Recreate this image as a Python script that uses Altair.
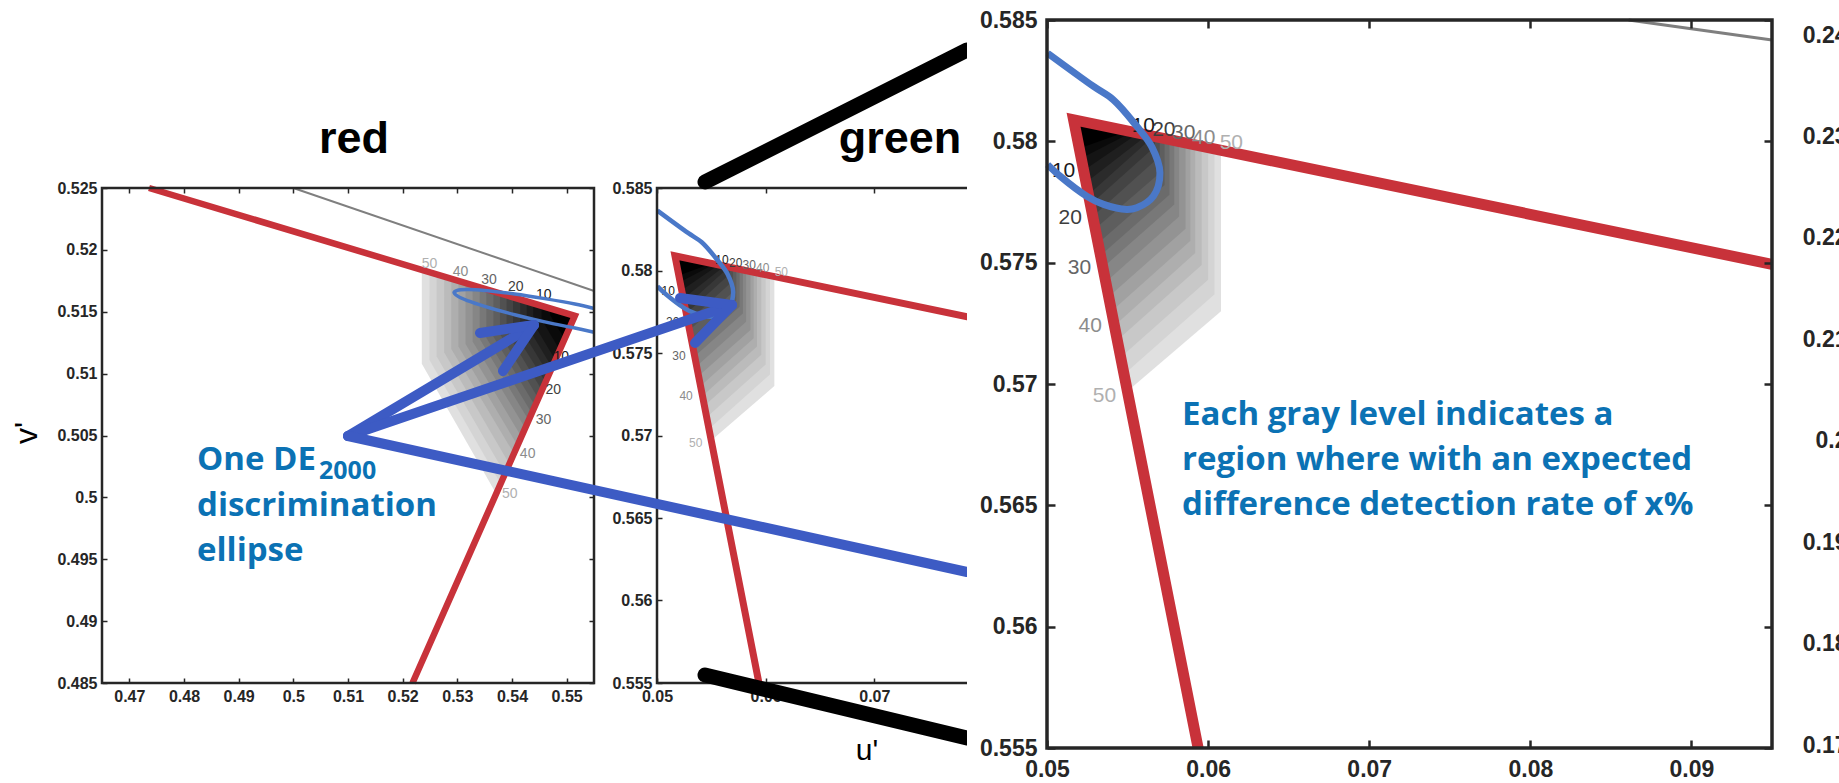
import altair as alt
import pandas as pd

W, H = 1839, 783
INK = "#262626"
RED = "#c8323a"
ELL = "#4a78c8"
ARROW = "#3d5bc4"
NOTE = "#0b72b4"

# ---------------------------------------------------------------- data
# red primary panel (u', v')
red_gamut_u = [0.4736, 0.5515, 0.5218]
red_gamut_v = [0.5250, 0.51467, 0.4850]
red_locus_u = [0.5000, 0.5549]
red_locus_v = [0.5250, 0.5167]
red_ellipse_u = [0.5550, 0.5515, 0.5460, 0.5405, 0.5350, 0.5320, 0.5300, 0.5294,
                 0.5300, 0.5320, 0.5350, 0.5405, 0.5460, 0.5515, 0.5550]
red_ellipse_v = [0.51526, 0.51562, 0.51606, 0.51644, 0.51672, 0.51679, 0.51672, 0.51655,
                 0.51628, 0.51587, 0.51543, 0.51476, 0.51418, 0.51368, 0.51335]

# detection-rate bands (%): for each contour, where it leaves the upper gamut edge (u),
# where its vertical part ends (v) and where it meets the lower gamut edge (v)
levels = [2.5, 5, 7.5, 10, 12.5, 15, 17.5, 20, 22.5, 25,
          27.5, 30, 32.5, 35, 37.5, 40, 42.5, 45, 47.5, 50]
level_gray = ["#000000", "#000000", "#0a0a0a", "#141414", "#1f1f1f", "#2b2b2b", "#373737",
              "#444444", "#515151", "#5e5e5e", "#6b6b6b", "#787878", "#868686", "#939393",
              "#a1a1a1", "#aeaeae", "#bbbbbb", "#c8c8c8", "#d4d4d4", "#e0e0e0"]
red_band_u = [0.5490, 0.5470, 0.5454, 0.5439, 0.5427, 0.5415, 0.5402, 0.5390, 0.5378, 0.5366,
              0.5353, 0.5341, 0.5328, 0.5315, 0.5302, 0.5289, 0.5276, 0.5262, 0.5249, 0.5235]
red_band_bend_v = [0.5148, 0.5147, 0.5144, 0.5141, 0.5139, 0.5137, 0.5135, 0.5134, 0.5132, 0.5130,
                   0.5129, 0.5128, 0.5126, 0.5124, 0.5122, 0.5120, 0.5117, 0.5114, 0.5111, 0.5108]
red_band_low_v = [0.5138, 0.5128, 0.5119, 0.5111, 0.5105, 0.5099, 0.5093, 0.50865, 0.5080, 0.5074,
                  0.5068, 0.50623, 0.5056, 0.5049, 0.5042, 0.50354, 0.5027, 0.5019, 0.5011, 0.5003]

label_levels = ["10", "20", "30", "40", "50"]
label_gray = ["#1a1a1a", "#3d3d3d", "#666666", "#8c8c8c", "#b0b0b0"]
red_top_label_u = [0.5458, 0.5407, 0.5358, 0.5306, 0.5249]
red_top_label_v = [0.51633, 0.51700, 0.51754, 0.51821, 0.51889]
red_side_label_u = [0.5490, 0.54756, 0.54575, 0.54286, 0.53959]
red_side_label_v = [0.51134, 0.50865, 0.50623, 0.50354, 0.50030]

# green primary (shown small and enlarged)
green_gamut_u = [0.0950, 0.05165, 0.05938]
green_gamut_v = [0.57493, 0.58089, 0.5550]
green_locus_u = [0.0861, 0.0950]
green_locus_v = [0.5850, 0.58418]
green_ellipse_u = [0.05004, 0.05289, 0.05412, 0.05557, 0.05649, 0.05701, 0.05660,
                   0.05557, 0.05495, 0.05351, 0.05247, 0.05082, 0.05004]
green_ellipse_v = [0.58363, 0.58226, 0.58171, 0.58062, 0.57979, 0.57870, 0.57774,
                   0.57726, 0.57719, 0.57740, 0.57774, 0.57856, 0.57904]
green_band_u = [0.0544, 0.0549, 0.0553, 0.0556, 0.0559, 0.0561, 0.0564, 0.0567, 0.0570, 0.0573,
                0.0576, 0.0579, 0.0582, 0.0586, 0.0589, 0.0592, 0.0596, 0.0600, 0.0604, 0.0608]
green_band_bend_v = [0.5806, 0.5804, 0.5804, 0.5803, 0.5801, 0.5799, 0.5796, 0.5792, 0.5787, 0.5782,
                     0.5778, 0.5774, 0.5769, 0.5764, 0.5759, 0.5754, 0.5749, 0.5743, 0.5737, 0.5730]
green_band_low_v = [0.5802, 0.5797, 0.5793, 0.5788, 0.5783, 0.5778, 0.5774, 0.5769, 0.5764, 0.5758,
                    0.5753, 0.5748, 0.5742, 0.5736, 0.5730, 0.5724, 0.5718, 0.5711, 0.5704, 0.5697]
green_top_label_u = [0.05598, 0.05725, 0.05849, 0.05973, 0.06144]
green_top_label_v = [0.58062, 0.58048, 0.58034, 0.58014, 0.57993]
green_side_label_u = [0.05103, 0.05144, 0.05202, 0.05268, 0.05357]
green_side_label_v = [0.57877, 0.57685, 0.57480, 0.57240, 0.56952]

# tick values
red_xticks = [0.47, 0.48, 0.49, 0.50, 0.51, 0.52, 0.53, 0.54, 0.55]
red_yticks = [0.485, 0.49, 0.495, 0.50, 0.505, 0.51, 0.515, 0.52, 0.525]
green_xticks = [0.05, 0.06, 0.07, 0.08, 0.09]
green_yticks = [0.555, 0.56, 0.565, 0.57, 0.575, 0.58, 0.585]
blue_yticks = [0.17, 0.18, 0.19, 0.20, 0.21, 0.22, 0.23, 0.24]

# ---------------------------------------------------------------- layout
PANELS = {
    "red": dict(xdom=[0.465, 0.555], ydom=[0.485, 0.525], xr=[102, 594], yr=[683, 188],
                xt=red_xticks, yt=red_yticks, tick=5, tickw=1.5, fs=16, pad=5, box=2.5,
                gamut_w=6.5, ell_w=3.5, locus_w=2, lab_fs=14, z=0),
    "green": dict(xdom=[0.05, 0.095], ydom=[0.555, 0.585], xr=[657, 1146], yr=[683, 188],
                  xt=green_xticks, yt=green_yticks, tick=5, tickw=1.5, fs=16, pad=5, box=2.5,
                  gamut_w=7, ell_w=4.5, locus_w=2, lab_fs=12, z=0),
    "zoom": dict(xdom=[0.05, 0.095], ydom=[0.555, 0.585], xr=[1047, 1772], yr=[748, 20],
                 xt=green_xticks, yt=green_yticks, tick=8, tickw=2.5, fs=23, pad=10, box=3.5,
                 gamut_w=11, ell_w=7, locus_w=3, lab_fs=21, z=1),
}


def scales(P):
    sx = alt.Scale(domain=P["xdom"], range=P["xr"], nice=False, zero=False)
    sy = alt.Scale(domain=P["ydom"], range=P["yr"], nice=False, zero=False)
    return sx, sy


def path_df(us, vs):
    return pd.DataFrame({"u": us, "v": vs, "k": list(range(len(us)))})


def line_layer(P, us, vs, color, width, interp="linear", join="miter"):
    sx, sy = scales(P)
    return alt.Chart(path_df(us, vs)).mark_line(
        color=color, strokeWidth=width, interpolate=interp, strokeJoin=join, strokeCap="butt"
    ).encode(
        x=alt.X("u:Q", scale=sx, axis=None),
        y=alt.Y("v:Q", scale=sy, axis=None),
        order=alt.Order("k:Q"),
    )


def v_at_u(p0, p1, u):
    t = (u - p0[0]) / (p1[0] - p0[0])
    return p0[1] + t * (p1[1] - p0[1])


def u_at_v(p0, p1, v):
    t = (v - p0[1]) / (p1[1] - p0[1])
    return p0[0] + t * (p1[0] - p0[0])


def band_layer(P, gu, gv, bu, bend, low):
    sx, sy = scales(P)
    a, c, b = (gu[0], gv[0]), (gu[1], gv[1]), (gu[2], gv[2])
    rows = []
    # outermost (lightest) first so darker bands sit on top
    for i in reversed(range(len(levels))):
        key = f"{len(levels) - 1 - i:02d}"
        vt = v_at_u(a, c, bu[i])
        vb = min(bend[i], vt)
        ul = u_at_v(c, b, low[i])
        pts = [c, (bu[i], vt), (bu[i], vb), (ul, low[i])]
        for k, (pu, pv) in enumerate(pts):
            rows.append({"band": key, "k": k, "u": pu, "v": pv, "g": level_gray[i]})
    return alt.Chart(pd.DataFrame(rows)).mark_line(filled=True, strokeWidth=0).encode(
        x=alt.X("u:Q", scale=sx, axis=None),
        y=alt.Y("v:Q", scale=sy, axis=None),
        detail="band:N",
        color=alt.Color("g:N", scale=None),
        order=alt.Order("k:Q"),
    )


def label_layer(P, us, vs):
    sx, sy = scales(P)
    df = pd.DataFrame({"u": us, "v": vs, "t": label_levels, "g": label_gray})
    return alt.Chart(df).mark_text(font="Liberation Sans", fontSize=P["lab_fs"]).encode(
        x=alt.X("u:Q", scale=sx, axis=None),
        y=alt.Y("v:Q", scale=sy, axis=None),
        text="t:N",
        color=alt.Color("g:N", scale=None),
    )


def frame_layers(P):
    sx, sy = scales(P)
    T = P["tick"]
    df = pd.DataFrame({"u0": [P["xdom"][0]], "u1": [P["xdom"][1]],
                       "v0": [P["ydom"][0]], "v1": [P["ydom"][1]]})
    common = dict(domain=False, grid=False, tickSize=T, tickColor=INK, tickWidth=P["tickw"],
                  title=None, labelFont="Liberation Sans", labelFontSize=P["fs"],
                  labelFontWeight="bold", labelColor=INK, labelFlush=False,
                  labelOverlap=False, format="~g", zindex=P["z"])
    ax_b = alt.Axis(orient="bottom", values=P["xt"], offset=P["yr"][0] - T - H,
                    labelPadding=P["pad"], **common)
    ax_l = alt.Axis(orient="left", values=P["yt"], offset=-(P["xr"][0] + T),
                    labelPadding=P["pad"], **common)
    ax_t = alt.Axis(orient="top", values=P["xt"], offset=-(P["yr"][1] + T), labels=False, **common)
    ax_r = alt.Axis(orient="right", values=P["yt"], offset=P["xr"][1] - T - W, labels=False, **common)
    box = alt.Chart(df).mark_rect(fillOpacity=0, stroke=INK, strokeWidth=P["box"]).encode(
        x=alt.X("u0:Q", scale=sx, axis=ax_b), x2="u1:Q",
        y=alt.Y("v0:Q", scale=sy, axis=ax_l), y2="v1:Q")
    ticks = alt.Chart(df).mark_rect(fillOpacity=0, strokeOpacity=0).encode(
        x=alt.X("u0:Q", scale=sx, axis=ax_t), x2="u1:Q",
        y=alt.Y("v0:Q", scale=sy, axis=ax_r), y2="v1:Q")
    return [box, ticks]


def panel(P, gamut, locus, ell, bands, top_lab, side_lab):
    return [
        band_layer(P, gamut[0], gamut[1], *bands),
        line_layer(P, locus[0], locus[1], "#7f7f7f", P["locus_w"]),
        line_layer(P, gamut[0], gamut[1], RED, P["gamut_w"]),
        label_layer(P, *top_lab),
        label_layer(P, *side_lab),
        line_layer(P, ell[0], ell[1], ELL, P["ell_w"], interp="catmull-rom", join="round"),
    ] + frame_layers(P)


def text(t, x, y, size, color="black", font="Open Sans", weight="bold", align="left", angle=0):
    return alt.Chart(pd.DataFrame({"t": [t]})).mark_text(
        font=font, fontSize=size, fontWeight=weight, color=color, align=align,
        baseline="alphabetic", angle=angle
    ).encode(x=alt.value(x), y=alt.value(y), text="t:N")


def segments(segs, color, width, cap):
    df = pd.DataFrame(segs, columns=["x", "y", "x2", "y2"])
    return alt.Chart(df).mark_rule(color=color, strokeWidth=width, strokeCap=cap).encode(
        x=alt.X("x:Q", scale=None, axis=None), y=alt.Y("y:Q", scale=None, axis=None),
        x2="x2:Q", y2="y2:Q")


red_layers = panel(PANELS["red"], (red_gamut_u, red_gamut_v), (red_locus_u, red_locus_v),
                   (red_ellipse_u, red_ellipse_v),
                   (red_band_u, red_band_bend_v, red_band_low_v),
                   (red_top_label_u, red_top_label_v), (red_side_label_u, red_side_label_v))
green_args = ((green_gamut_u, green_gamut_v), (green_locus_u, green_locus_v),
              (green_ellipse_u, green_ellipse_v),
              (green_band_u, green_band_bend_v, green_band_low_v),
              (green_top_label_u, green_top_label_v), (green_side_label_u, green_side_label_v))
green_layers = panel(PANELS["green"], *green_args)
zoom_layers = panel(PANELS["zoom"], *green_args)

titles = [
    text("red", 354, 153, 45, font="Liberation Sans", align="center"),
    text("green", 900, 153, 45, font="Liberation Sans", align="center"),
    text("v'", 37, 433, 32, font="Liberation Sans", weight="normal", align="center", angle=270),
    text("u'", 867, 760, 30, font="Liberation Sans", weight="normal", align="center"),
]

arrows = segments([
    (348, 436, 534, 325), (534, 325, 480, 333), (534, 325, 503, 371),
    (348, 436, 732, 305), (732, 305, 680, 298), (732, 305, 695, 343),
    (348, 436, 967, 572),
], ARROW, 10, "round")
zoom_marks = segments([(705, 182, 967, 50), (705, 675, 967, 738)], "black", 15, "round")

ellipse_note = [
    text("One DE", 197, 470, 33, color=NOTE),
    text("2000", 319, 479, 25, color=NOTE),
    text("discrimination", 197, 516, 33, color=NOTE),
    text("ellipse", 197, 561, 33, color=NOTE),
]

cover = alt.Chart(pd.DataFrame({"a": [0]})).mark_rect(color="white").encode(
    x=alt.value(967), x2=alt.value(W), y=alt.value(0), y2=alt.value(H))

band_note = [
    text("Each gray level indicates a", 1182, 425, 33, color=NOTE),
    text("region where with an expected", 1182, 470, 33, color=NOTE),
    text("difference detection rate of x%", 1182, 515, 33, color=NOTE),
]

# tick labels of the neighbouring (blue) panel at the right edge
blue_scale = alt.Scale(domain=[0.17, 0.24], range=[745, 35], nice=False, zero=False)
blue_labels = alt.Chart(pd.DataFrame({"v": blue_yticks})).mark_point(opacity=0).encode(
    x=alt.value(W + 40),
    y=alt.Y("v:Q", scale=blue_scale, axis=alt.Axis(
        orient="left", values=blue_yticks, offset=-1847, ticks=False, tickSize=0, domain=False,
        grid=False, title=None, labelPadding=0, labelFont="Liberation Sans", labelFontSize=23,
        labelFontWeight="bold", labelColor=INK, labelFlush=False, labelOverlap=False,
        format="~g", zindex=1)),
)

layers = (red_layers + green_layers + titles + [arrows] + ellipse_note + [zoom_marks, cover]
          + zoom_layers + band_note + [blue_labels])

chart = alt.layer(*layers).resolve_scale(x="independent", y="independent").properties(
    width=W, height=H, padding=0, autosize=alt.AutoSizeParams(type="none"),
    background="white",
).configure_view(strokeWidth=0)

chart.save("out.html", embed_options={"renderer": "svg", "actions": False})
